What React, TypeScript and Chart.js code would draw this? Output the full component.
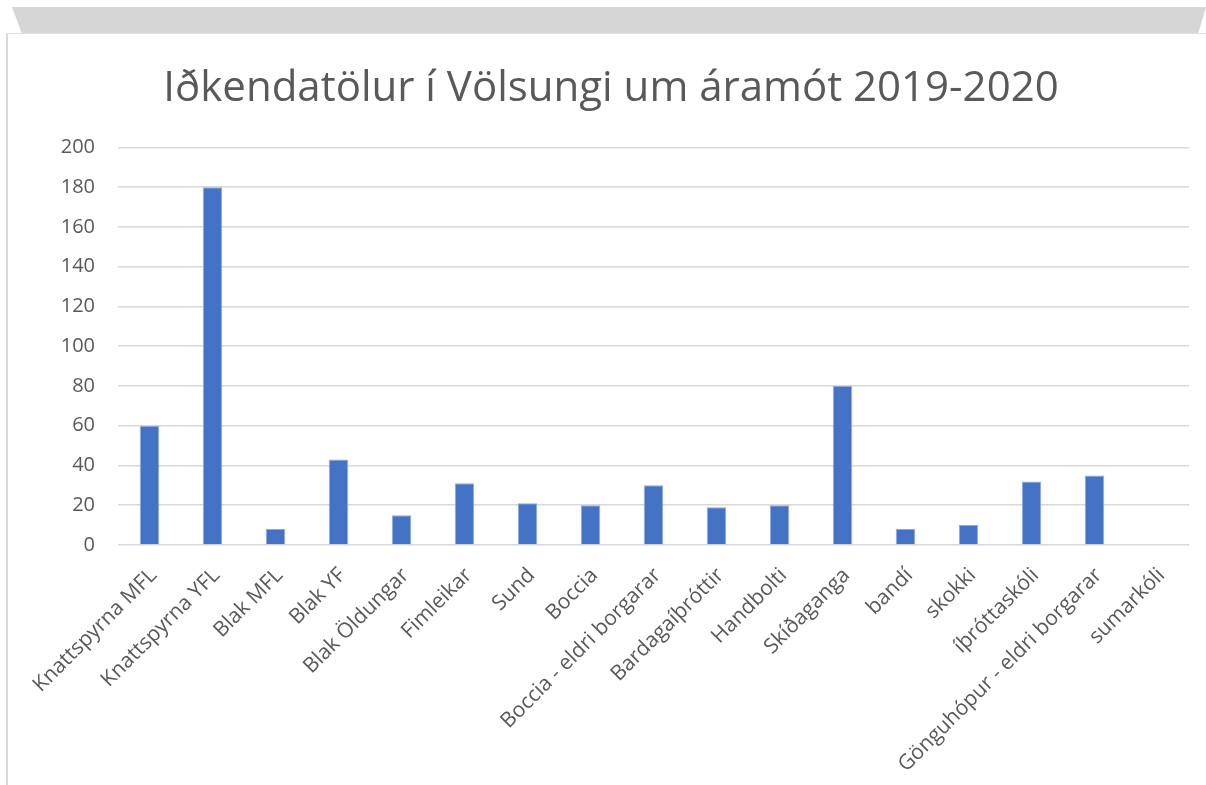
import { useEffect, useRef } from "react";
import { Chart, registerables } from "chart.js";

Chart.register(...registerables);

const TITLE = "Iðkendatölur í Völsungi um áramót 2019-2020";

const categories = [
  "Knattspyrna MFL",
  "Knattspyrna YFL",
  "Blak MFL",
  "Blak YF",
  "Blak Öldungar",
  "Fimleikar",
  "Sund",
  "Boccia",
  "Boccia - eldri borgarar",
  "Bardagaíþróttir",
  "Handbolti",
  "Skíðaganga",
  "bandí",
  "skokki",
  "íþróttaskóli",
  "Gönguhópur - eldri borgarar",
  "sumarkóli",
];

const participants = [60, 180, 8, 43, 15, 31, 21, 20, 30, 19, 20, 80, 8, 10, 32, 35, 0];

const yMin = 0;
const yMax = 200;
const yStep = 20;

const CANVAS_W = 1198;
const CANVAS_H = 750;

export default function App() {
  const ref = useRef<HTMLCanvasElement>(null);

  useEffect(() => {
    if (!ref.current) return;
    const chart = new Chart(ref.current, {
      type: "bar",
      data: {
        labels: categories,
        datasets: [
          {
            label: "Iðkendur",
            data: participants,
            backgroundColor: "#4472C4",
            borderColor: "#8fa9dc",
            borderWidth: 1,
            barPercentage: 0.31,
            categoryPercentage: 1,
          },
        ],
      },
      options: {
        responsive: false,
        animation: false,
        devicePixelRatio: 1,
        layout: { padding: { left: 25, right: 17, top: 0, bottom: 0 } },
        plugins: {
          legend: { display: false },
          tooltip: { enabled: false },
          title: {
            display: true,
            text: TITLE,
            color: "#595959",
            font: { family: "'Open Sans', sans-serif", size: 42, weight: "normal" },
            padding: { top: 29, bottom: 33 },
          },
        },
        scales: {
          x: {
            grid: { display: false },
            border: { display: false },
            ticks: {
              color: "#595959",
              font: { family: "'Open Sans', sans-serif", size: 21 },
              minRotation: 45,
              maxRotation: 45,
              autoSkip: false,
              padding: 10,
              labelOffset: 4,
            },
            afterFit: (scale: any) => {
              scale.height = 240;
            },
          },
          y: {
            min: yMin,
            max: yMax,
            grid: { color: "#d9d9d9", lineWidth: 1.5, drawTicks: false },
            border: { display: false },
            ticks: {
              stepSize: yStep,
              color: "#595959",
              font: { family: "'Open Sans', sans-serif", size: 20 },
              padding: 23,
            },
            afterFit: (scale: any) => {
              scale.width = 85;
            },
          },
        },
      },
    });
    return () => chart.destroy();
  }, []);

  return (
    <div
      style={{
        position: "fixed",
        left: 0,
        top: 0,
        width: 1206,
        height: 785,
        background: "#ffffff",
        overflow: "hidden",
      }}
    >
      <div
        style={{
          position: "absolute",
          left: 0,
          top: 7,
          width: 1206,
          height: 27,
          background: "#d6d6d6",
          clipPath: "polygon(12px 0px, 1206px 0px, 1198px 27px, 22px 27px)",
        }}
      />
      <div
        style={{
          position: "absolute",
          left: 6,
          top: 33,
          width: 1220,
          height: 800,
          borderLeft: "2px solid #d9d9d9",
          borderTop: "1px solid #e0e0e0",
          boxSizing: "border-box",
        }}
      />
      <div style={{ position: "absolute", left: 8, top: 35, width: CANVAS_W, height: CANVAS_H }}>
        <canvas ref={ref} width={CANVAS_W} height={CANVAS_H} style={{ display: "block" }} />
      </div>
    </div>
  );
}
